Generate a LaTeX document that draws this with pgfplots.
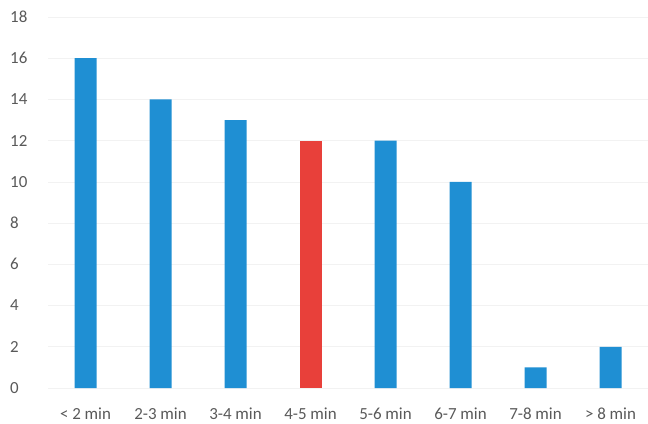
\documentclass[border=0pt]{standalone}
\usepackage{pgfplots}
\pgfplotsset{compat=1.18}
\usepackage{fontspec}
\setmainfont{Carlito}
\definecolor{barblue}{RGB}{31,143,211}
\definecolor{barred}{RGB}{232,64,58}
\definecolor{labgray}{RGB}{89,89,89}
\begin{document}
\begin{tikzpicture}
\begin{axis}[
  at={(0,0)}, anchor=south west,
  scale only axis,
  width=600bp, height=371bp,
  xmin=-0.5, xmax=7.5,
  ymin=0, ymax=18,
  ytick={0,2,...,18},
  xtick={0,...,7},
  xticklabels={{< 2 min},{2-3 min},{3-4 min},{4-5 min},{5-6 min},{6-7 min},{7-8 min},{> 8 min}},
  axis line style={draw=none},
  tick style={draw=none},
  ymajorgrids,
  grid style={draw=black!5, line width=0.6pt},
  ybar, bar width=22bp, bar shift=0pt,
  /pgf/number format/assume math mode=true,
  tick label style={font=\fontsize{17}{20}\selectfont, text=labgray},
  yticklabel style={anchor=west, inner sep=0pt, xshift=-38bp},
  xticklabel style={anchor=north, inner sep=0pt, yshift=-15bp},
  clip=false,
]
\addplot[fill=barblue, draw=none] coordinates {(0,16) (1,14) (2,13) (4,12) (5,10) (6,1) (7,2)};
\addplot[fill=barred, draw=none] coordinates {(3,12)};
\end{axis}
\pgfresetboundingbox
\path[use as bounding box] (-48bp,-36bp) rectangle (600bp,388bp);
\end{tikzpicture}
\end{document}
